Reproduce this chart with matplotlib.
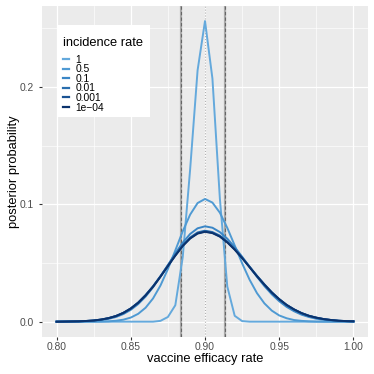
import numpy as np
import matplotlib
matplotlib.use("Agg")
import matplotlib.pyplot as plt
from matplotlib.patches import Rectangle

plt.rcParams['font.family'] = ['Liberation Sans', 'DejaVu Sans']

# grid of efficacy values (step 0.005)
efficacy = np.linspace(0.80, 1.00, 41)

# posterior probabilities, one list per incidence rate
p_1 = [0, 0, 0, 0, 0, 0, 0, 0, 0, 0,
       0, 0, 0, 0, 0.0007, 0.004, 0.014, 0.055, 0.130, 0.214,
       0.256,
       0.207, 0.105, 0.030, 0.005, 0.0005, 0, 0, 0, 0, 0,
       0, 0, 0, 0, 0, 0, 0, 0, 0, 0]
p_05 = [0, 0, 0, 0, 0, 0, 0.0001, 0.0003, 0.0008, 0.0017,
        0.0035, 0.0067, 0.0119, 0.0198, 0.0308, 0.0448, 0.0607, 0.0770, 0.0912, 0.1010,
        0.1045,
        0.1014, 0.0928, 0.0799, 0.0649, 0.0497, 0.0358, 0.0243, 0.0156, 0.0094, 0.0053,
        0.0029, 0.0014, 0.0007, 0.0003, 0.0001, 0, 0, 0, 0, 0]
p_01 = [0, 0, 0.0001, 0.0002, 0.0004, 0.0007, 0.0014, 0.0024, 0.0040, 0.0065,
        0.0101, 0.0150, 0.0214, 0.0293, 0.0384, 0.0482, 0.0582, 0.0673, 0.0747, 0.0795,
        0.0812,
        0.0800, 0.0763, 0.0707, 0.0635, 0.0553, 0.0467, 0.0382, 0.0303, 0.0233, 0.0174,
        0.0126, 0.0089, 0.0060, 0.0040, 0.0025, 0.0016, 0.0010, 0.0006, 0.0003, 0.0002]
p_001 = [0, 0.0001, 0.0002, 0.0003, 0.0006, 0.0010, 0.0018, 0.0030, 0.0048, 0.0075,
         0.0113, 0.0163, 0.0227, 0.0302, 0.0388, 0.0479, 0.0569, 0.0652, 0.0717, 0.0760,
         0.0775,
         0.0763, 0.0733, 0.0683, 0.0620, 0.0547, 0.0469, 0.0391, 0.0318, 0.0250, 0.0192,
         0.0143, 0.0104, 0.0073, 0.0050, 0.0034, 0.0022, 0.0014, 0.0008, 0.0005, 0.0003]
p_0001 = [0, 0.0001, 0.0002, 0.0003, 0.0006, 0.0010, 0.0018, 0.0030, 0.0048, 0.0075,
          0.0112, 0.0162, 0.0225, 0.0299, 0.0385, 0.0475, 0.0564, 0.0647, 0.0711, 0.0753,
          0.0768,
          0.0757, 0.0727, 0.0677, 0.0615, 0.0543, 0.0466, 0.0388, 0.0316, 0.0249, 0.0191,
          0.0142, 0.0104, 0.0073, 0.0050, 0.0034, 0.0022, 0.0014, 0.0008, 0.0005, 0.0003]
p_00001 = [0, 0.0001, 0.0002, 0.0003, 0.0006, 0.0010, 0.0018, 0.0030, 0.0048, 0.0075,
           0.0112, 0.0161, 0.0224, 0.0298, 0.0383, 0.0473, 0.0562, 0.0644, 0.0708, 0.0750,
           0.0765,
           0.0754, 0.0724, 0.0675, 0.0613, 0.0541, 0.0464, 0.0387, 0.0315, 0.0248, 0.0191,
           0.0142, 0.0104, 0.0073, 0.0050, 0.0034, 0.0022, 0.0014, 0.0008, 0.0005, 0.0003]

series = [p_1, p_05, p_01, p_001, p_0001, p_00001]
labels = ["1", "0.5", "0.1", "0.01", "0.001", "1e\u221204"]
colors = ["#64a9dc", "#4f9ad3", "#3a86c6", "#2a6eae", "#1a5394", "#0b326c"]

# credible interval and point estimate
ci_low, ci_high = 0.8837, 0.9137
estimate = 0.90

fig = plt.figure(figsize=(3.74, 3.74), dpi=100)
ax = fig.add_axes([0.1115, 0.0997, 0.8733, 0.8843])
ax.set_facecolor("#EBEBEB")

ax.set_xlim(0.79, 1.01)
ax.set_ylim(-0.0128, 0.2688)
ax.set_xticks([0.80, 0.85, 0.90, 0.95, 1.00])
ax.set_xticklabels(["0.80", "0.85", "0.90", "0.95", "1.00"])
ax.set_yticks([0.0, 0.1, 0.2])
ax.set_yticklabels(["0.0", "0.1", "0.2"])
ax.set_xticks([0.825, 0.875, 0.925, 0.975], minor=True)
ax.set_yticks([0.05, 0.15, 0.25], minor=True)
ax.grid(which="major", color="white", lw=0.9)
ax.grid(which="minor", color="white", lw=0.45)
ax.set_axisbelow(True)
for sp in ax.spines.values():
    sp.set_visible(False)
ax.tick_params(which="major", length=2.3, width=0.8, color="#333333",
               labelsize=7.4, labelcolor="#4D4D4D", pad=1.8)
ax.tick_params(axis="y", which="major", pad=3.5)
ax.tick_params(which="minor", length=0)

for xv in (ci_low, ci_high):
    ax.axvline(xv, color="#9a9a9a", lw=1.6, alpha=0.8, zorder=1)
    ax.axvline(xv, color="#555555", lw=0.8, ls=(0, (3, 2)), alpha=0.8, zorder=1)
ax.axvline(estimate, color="#b0b0b0", lw=0.8, ls=":", zorder=1)

for vals, lab, col in zip(series, labels, colors):
    ax.plot(efficacy, vals, color=col, lw=1.4, label=lab, zorder=2)

ax.set_xlabel("vaccine efficacy rate", fontsize=9.3)
ax.set_ylabel("posterior probability", fontsize=9.3)
ax.xaxis.set_label_coords(0.5, -0.049)
ax.yaxis.set_label_coords(-0.065, 0.5)

# white legend background box
ax.add_patch(Rectangle((0.0459, 0.6644), 0.2857, 0.2781, transform=ax.transAxes,
                       facecolor="white", edgecolor="none", zorder=4))
leg = ax.legend(title="incidence rate", loc="upper left", bbox_to_anchor=(0.0661, 0.906),
                borderaxespad=0, fontsize=7.4, title_fontsize=9.3, frameon=False,
                handlelength=0.55, handletextpad=0.65, labelspacing=-0.04, borderpad=0)
leg._legend_box.align = "left"
leg._legend_box.sep = 4
leg.set_zorder(5)
for line in leg.get_lines():
    line.set_linewidth(1.6)

fig.savefig("out.png", dpi=100)
